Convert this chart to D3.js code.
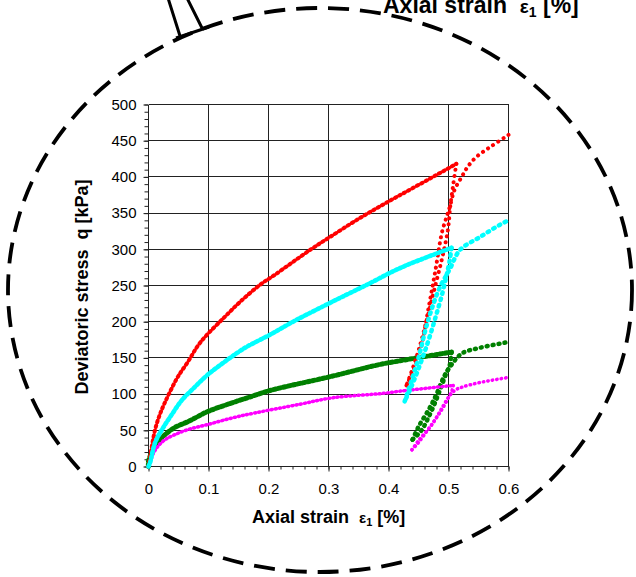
<!DOCTYPE html>
<html>
<head>
    <title>Deviatoric stress vs axial strain</title>
    <script src="https://d3js.org/d3.v7.min.js"></script>
    <style>
        body { margin: 0; background: white; }
        text { font-family: Arial, "Liberation Sans", sans-serif; fill: black; white-space: pre; }
        .title { font-size: 18px; font-weight: bold; }
        .grid { stroke: #222; stroke-width: 1; shape-rendering: crispEdges; }
        .series { fill: none; stroke-linecap: round; stroke-linejoin: round; }
    </style>
</head>
<body>
<script>
    // axes
    var xTicks = [0, 0.1, 0.2, 0.3, 0.4, 0.5, 0.6];
    var yTicks = [0, 50, 100, 150, 200, 250, 300, 350, 400, 450, 500];

    // [axial strain %, deviatoric stress kPa]
    var redLoad = [[0,0],[0.011,51],[0.019,72],[0.026,86],[0.0375,106],[0.049,124],[0.066,145],[0.086,171],
                   [0.1275,207],[0.156,230],[0.186,251],[0.211,265],[0.269,299],[0.3025,317],[0.35,342],
                   [0.4,366],[0.4525,390],[0.513,418]];
    var redUnload = [[0.513,418],[0.508,390],[0.503,360],[0.499,327],[0.49,290],[0.478,250],[0.464,203],
                     [0.45,160],[0.438,130],[0.43,112]];
    var redReload = [[0.43,112],[0.445,140],[0.456,171],[0.467,220],[0.478,270],[0.489,323],[0.497,345],
                     [0.502,358],[0.51,382],[0.522,400],[0.532,414],[0.547,428],[0.569,441],[0.6,458]];

    var cyanLoad = [[0,0],[0.0025,5],[0.011,33],[0.0225,51],[0.039,72],[0.056,92],[0.0775,110],[0.099,127],
                    [0.1275,145],[0.161,164],[0.2025,182],[0.241,200],[0.3025,226],[0.364,251],[0.419,274],
                    [0.505,302]];
    var cyanUnload = [[0.505,302],[0.502,285],[0.497,265],[0.49,240],[0.478,205],[0.465,170],[0.45,135],
                      [0.438,110],[0.427,90]];
    var cyanReload = [[0.427,90],[0.437,115],[0.45,150],[0.462,190],[0.475,225],[0.487,250],[0.497,265],
                      [0.503,274],[0.519,299],[0.5525,317],[0.586,334],[0.6,340]];

    var greenLoad = [[0,0],[0,7],[0.0075,23],[0.016,34],[0.0275,44],[0.044,54],[0.066,62],[0.099,76],
                     [0.1325,86],[0.1725,97],[0.2025,105],[0.3025,124],[0.386,141],[0.419,146],[0.505,158]];
    var greenUnload = [[0.505,158],[0.502,140],[0.497,130],[0.49,115],[0.48,93],[0.468,70],[0.455,50],[0.44,37]];
    var greenReload = [[0.44,37],[0.45,55],[0.468,80],[0.48,100],[0.493,125],[0.503,138],[0.512,148],
                       [0.524,157],[0.5525,164],[0.6,172]];

    var magentaLoad = [[0,0],[0.0025,5],[0.0075,17],[0.016,28],[0.0275,37],[0.044,44],[0.066,51],[0.099,58],
                       [0.139,67],[0.1775,74],[0.2525,86],[0.3075,95],[0.391,101],[0.419,104],[0.508,112]];
    var magentaUnload = [[0.508,112],[0.505,103],[0.5,95],[0.49,80],[0.478,65],[0.465,50],[0.45,33],[0.439,23]];
    var magentaReload = [[0.439,23],[0.452,38],[0.47,55],[0.485,75],[0.497,92],[0.503,99],[0.512,106],
                         [0.524,110],[0.5525,116],[0.6,123]];

    var svg = d3.select("body").append("svg")
                .attr("width", 636).attr("height", 577);

    var x = d3.scaleLinear().domain([0, 0.6]).range([148.5, 508.5]);
    var y = d3.scaleLinear().domain([0, 500]).range([466.5, 104.5]);

    // dashed lens outline with handle
    svg.append("ellipse")
        .attr("cx", 320).attr("cy", 290).attr("rx", 312).attr("ry", 282)
        .attr("fill", "none").attr("stroke", "black")
        .attr("stroke-width", 3.8).attr("stroke-dasharray", "21 11");
    svg.append("path")
        .attr("d", "M168,-2 L180,36 M187,-2 L202,28 M176,38 L209,27")
        .attr("fill", "none").attr("stroke", "black").attr("stroke-width", 3);
    var topTitle = svg.append("text")
        .attr("x", 383).attr("y", 13)
        .style("font-size", "23px").style("font-weight", "bold");
    topTitle.append("tspan").text("Axial strain  ");
    topTitle.append("tspan").style("font-size", "19px").text("ε");
    topTitle.append("tspan").attr("dy", 4).style("font-size", "14px").text("1");
    topTitle.append("tspan").attr("dy", -4).text(" [%]");

    // grid
    svg.append("g").selectAll("line").data(xTicks).enter().append("line")
        .attr("class", "grid")
        .attr("x1", function(d){ return x(d); }).attr("x2", function(d){ return x(d); })
        .attr("y1", y(0)).attr("y2", y(500));
    svg.append("g").selectAll("line").data(yTicks).enter().append("line")
        .attr("class", "grid")
        .attr("x1", x(0)).attr("x2", x(0.6))
        .attr("y1", function(d){ return y(d); }).attr("y2", function(d){ return y(d); });

    // axes with minor ticks
    svg.append("g").attr("transform", "translate(0," + y(0) + ")")
        .call(d3.axisBottom(x).ticks(30).tickSize(3).tickFormat(""))
        .call(function(g){ g.select(".domain").remove(); });
    svg.append("g").attr("transform", "translate(0," + y(0) + ")")
        .call(d3.axisBottom(x).tickValues(xTicks).tickSize(5).tickFormat(d3.format("")))
        .call(function(g){ g.select(".domain").remove(); })
        .selectAll("text").attr("y", 27).attr("dy", 0);

    svg.append("g").attr("transform", "translate(" + x(0) + ",0)")
        .call(d3.axisLeft(y).ticks(50).tickSize(4).tickFormat(""))
        .call(function(g){ g.select(".domain").remove(); });
    svg.append("g").attr("transform", "translate(" + x(0) + ",0)")
        .call(d3.axisLeft(y).tickValues(yTicks).tickSize(5).tickFormat(d3.format("d")))
        .call(function(g){ g.select(".domain").remove(); })
        .selectAll("text").attr("x", -12);
    svg.selectAll(".tick line").attr("stroke", "#222");
    svg.selectAll(".tick text")
        .style("font-family", "Arial, 'Liberation Sans', sans-serif")
        .style("font-size", "15px").attr("fill", "black");

    // series
    var line = d3.line()
        .x(function(d){ return x(d[0]); })
        .y(function(d){ return y(d[1]); })
        .curve(d3.curveCatmullRom.alpha(0.5));

    var series = [
        {data: greenLoad, color: "#008000", width: 5, dash: "2.5 2.5"},
        {data: greenUnload, color: "#008000", width: 4.5, dash: "1 5"},
        {data: greenReload, color: "#008000", width: 4.5, dash: "1 5"},
        {data: magentaLoad, color: "#ff00ff", width: 3.5, dash: "1 3.2"},
        {data: magentaUnload, color: "#ff00ff", width: 3.5, dash: "0.5 4"},
        {data: magentaReload, color: "#ff00ff", width: 3.5, dash: "0.5 4"},
        {data: redLoad, color: "#ff0000", width: 4, dash: "1.5 3.5"},
        {data: redUnload, color: "#ff0000", width: 4, dash: "0.1 6"},
        {data: redReload, color: "#ff0000", width: 4, dash: "0.1 6"},
        {data: cyanLoad, color: "#00ffff", width: 4.6, dash: "2 2.6"},
        {data: cyanUnload, color: "#00ffff", width: 4.5, dash: "1.5 5"},
        {data: cyanReload, color: "#00ffff", width: 4.5, dash: "1.5 5"}
    ];
    svg.append("g").selectAll("path").data(series).enter().append("path")
        .attr("class", "series")
        .attr("d", function(d){ return line(d.data); })
        .attr("stroke", function(d){ return d.color; })
        .attr("stroke-width", function(d){ return d.width; })
        .attr("stroke-dasharray", function(d){ return d.dash; });

    // axis titles
    var xTitle = svg.append("text").attr("class", "title")
        .attr("x", 252).attr("y", 523);
    xTitle.append("tspan").text("Axial strain  ");
    xTitle.append("tspan").style("font-size", "15px").text("ε");
    xTitle.append("tspan").attr("dy", 3).style("font-size", "11px").text("1");
    xTitle.append("tspan").attr("dy", -3).text(" [%]");

    svg.append("text").attr("class", "title")
        .attr("transform", "translate(88,287) rotate(-90)")
        .attr("text-anchor", "middle")
        .text("Deviatoric stress  q [kPa]");
</script>
</body>
</html>
